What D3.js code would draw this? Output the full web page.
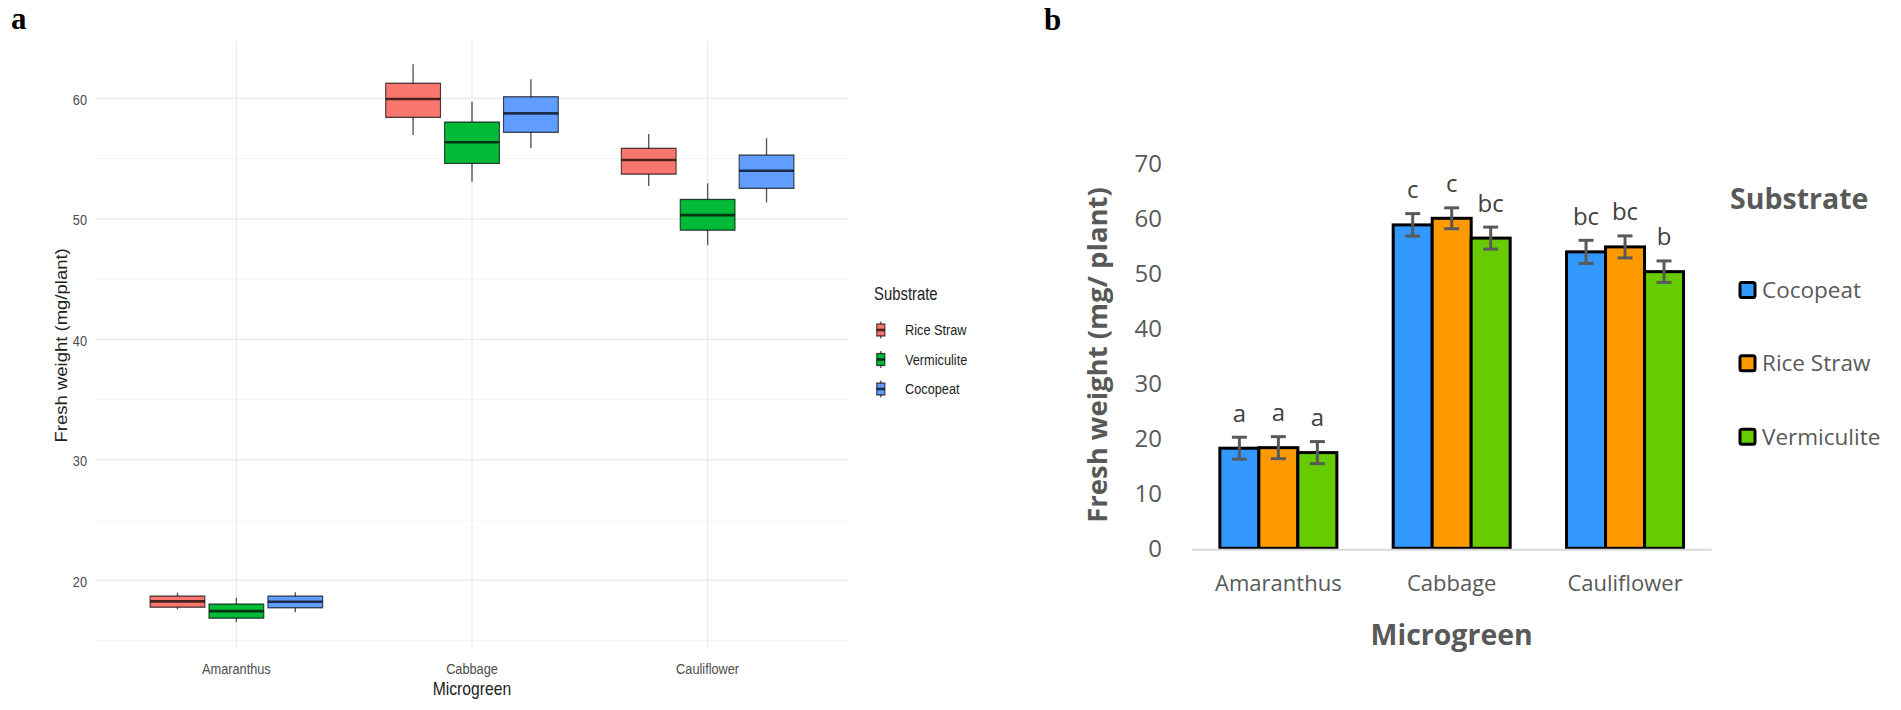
<!DOCTYPE html>
<html>
<head>
<meta charset="utf-8">
<script src="https://cdn.jsdelivr.net/npm/d3@7/dist/d3.min.js"></script>
<style>
  body { margin: 0; background: #fff; }
  svg { display: block; }
</style>
</head>
<body>
<div id="chart"></div>
<script>
// Shared categories
const microgreens = ['Amaranthus', 'Cabbage', 'Cauliflower'];

// Panel a: box plot stats per substrate, one entry per microgreen:
// [lower whisker, q1, median, q3, upper whisker]
const boxSubstrates = ['Rice Straw', 'Vermiculite', 'Cocopeat'];
const riceStrawBox = [
  [17.58, 17.77, 18.25, 18.69, 18.97],
  [56.95, 58.42, 59.94, 61.25, 62.82],
  [52.72, 53.71, 54.88, 55.85, 57.03]
];
const vermiculiteBox = [
  [16.53, 16.86, 17.44, 18.03, 18.55],
  [53.07, 54.6, 56.35, 58.03, 59.72],
  [47.82, 49.06, 50.31, 51.61, 52.94]
];
const cocopeatBox = [
  [17.36, 17.72, 18.22, 18.69, 19.02],
  [55.85, 57.18, 58.75, 60.13, 61.58],
  [51.36, 52.53, 53.99, 55.29, 56.68]
];
const boxTicks = [20, 30, 40, 50, 60];
const boxMinorTicks = [15, 25, 35, 45, 55];

// Panel b: mean fresh weight, error and significance letters
const barSubstrates = ['Cocopeat', 'Rice Straw', 'Vermiculite'];
const cocopeatMean = [18.2, 58.8, 53.9];
const riceStrawMean = [18.3, 60.0, 54.8];
const vermiculiteMean = [17.4, 56.4, 50.3];
const cocopeatErr = [2.0, 2.05, 2.1];
const riceStrawErr = [2.0, 1.9, 2.0];
const vermiculiteErr = [2.0, 2.0, 1.95];
const cocopeatLetters = ['a', 'c', 'bc'];
const riceStrawLetters = ['a', 'c', 'bc'];
const vermiculiteLetters = ['a', 'bc', 'b'];
const barTicks = [0, 10, 20, 30, 40, 50, 60, 70];

const svg = d3.select('#chart')
  .append('svg')
  .attr('width', 1901)
  .attr('height', 710);

svg.append('rect').attr('width', 1901).attr('height', 710).attr('fill', '#fff');

// Panel letters
svg.append('text').attr('x', 11).attr('y', 29)
  .style('font-family', '"Liberation Serif", "DejaVu Serif", serif')
  .style('font-weight', 'bold').style('font-size', '31px').text('a');
svg.append('text').attr('x', 1044).attr('y', 30)
  .style('font-family', '"Liberation Serif", "DejaVu Serif", serif')
  .style('font-weight', 'bold').style('font-size', '31px').text('b');

// ---------------- Panel a (ggplot style box plot) ----------------
// The original figure is squeezed horizontally, so draw in a scaled group.
const sx = 0.85;
const left = svg.append('g').attr('transform', `scale(${sx},1)`);
const sansA = '"Liberation Sans", Arial, sans-serif';

const boxColors = { 'Rice Straw': '#F8766D', 'Vermiculite': '#00BA38', 'Cocopeat': '#619CFF' };
const boxData = { 'Rice Straw': riceStrawBox, 'Vermiculite': vermiculiteBox, 'Cocopeat': cocopeatBox };

const ax = d3.scalePoint().domain(microgreens).range([95 / sx, 849 / sx]).padding(0.6);
const ay = d3.scaleLinear().domain([14.3, 64.7]).range([649, 41.7]);
const dodge = d3.scaleBand().domain(boxSubstrates)
  .range([-ax.step() * 0.375, ax.step() * 0.375]);
const boxW = dodge.bandwidth() * 0.93;

// Grid
left.append('g').selectAll('line').data(boxMinorTicks).join('line')
  .attr('x1', 95 / sx).attr('x2', 849 / sx)
  .attr('y1', d => ay(d)).attr('y2', d => ay(d))
  .attr('stroke', '#f2f2f2').attr('stroke-width', 1);
left.append('g').selectAll('line').data(boxTicks).join('line')
  .attr('x1', 95 / sx).attr('x2', 849 / sx)
  .attr('y1', d => ay(d)).attr('y2', d => ay(d))
  .attr('stroke', '#ebebeb').attr('stroke-width', 1.4);
left.append('g').selectAll('line').data(microgreens).join('line')
  .attr('x1', d => ax(d)).attr('x2', d => ax(d))
  .attr('y1', ay.range()[1]).attr('y2', ay.range()[0])
  .attr('stroke', '#ebebeb').attr('stroke-width', 1.4);

// Draw one box glyph
function drawBox(g, cx, w, s, fill, yScale) {
  g.append('line')
    .attr('x1', cx).attr('x2', cx)
    .attr('y1', yScale(s[0])).attr('y2', yScale(s[4]))
    .attr('stroke', '#555').attr('stroke-width', 1.6);
  g.append('rect')
    .attr('x', cx - w / 2).attr('width', w)
    .attr('y', yScale(s[3])).attr('height', yScale(s[1]) - yScale(s[3]))
    .attr('fill', fill)
    .attr('stroke', 'rgba(0,0,0,0.7)').attr('stroke-width', 1.3);
  g.append('line')
    .attr('x1', cx - w / 2).attr('x2', cx + w / 2)
    .attr('y1', yScale(s[2])).attr('y2', yScale(s[2]))
    .attr('stroke', 'rgba(0,0,0,0.7)').attr('stroke-width', 2.6);
}

const boxes = left.append('g');
boxSubstrates.forEach(sub => {
  microgreens.forEach((m, i) => {
    const cx = ax(m) + dodge(sub) + dodge.bandwidth() / 2;
    drawBox(boxes, cx, boxW, boxData[sub][i], boxColors[sub], ay);
  });
});

// Axis text
left.append('g').selectAll('text').data(boxTicks).join('text')
  .attr('x', 87 / sx).attr('y', d => ay(d)).attr('dy', '0.42em')
  .attr('text-anchor', 'end')
  .style('font-family', sansA).style('font-size', '15px').attr('fill', '#4d4d4d')
  .text(d => d);
left.append('g').selectAll('text').data(microgreens).join('text')
  .attr('x', d => ax(d)).attr('y', 674)
  .attr('text-anchor', 'middle')
  .style('font-family', sansA).style('font-size', '15px').attr('fill', '#4d4d4d')
  .text(d => d);
left.append('text')
  .attr('x', (95 + 849) / 2 / sx).attr('y', 695)
  .attr('text-anchor', 'middle')
  .style('font-family', sansA).style('font-size', '18.5px').attr('fill', '#222')
  .text('Microgreen');
left.append('text')
  .attr('transform', `translate(${67 / sx},${(41.7 + 649) / 2}) rotate(-90)`)
  .attr('text-anchor', 'middle')
  .style('font-family', sansA).style('font-size', '18.5px').attr('fill', '#222')
  .text('Fresh weight (mg/plant)');

// Legend
const legA = left.append('g');
legA.append('text').attr('x', 874 / sx).attr('y', 300)
  .style('font-family', sansA).style('font-size', '17.5px').attr('fill', '#222')
  .text('Substrate');
const legAy = d3.scalePoint().domain(boxSubstrates).range([330, 389]);
boxSubstrates.forEach(sub => {
  const cy = legAy(sub);
  const ky = d3.scaleLinear().domain([0, 4]).range([cy + 8.5, cy - 8.5]);
  drawBox(legA, 880.8 / sx, 9.6, [0, 0.6, 2, 3.4, 4], boxColors[sub], ky);
  legA.append('text').attr('x', 905 / sx).attr('y', cy).attr('dy', '0.36em')
    .style('font-family', sansA).style('font-size', '15px').attr('fill', '#222')
    .text(sub);
});

// ---------------- Panel b (Excel style bar chart) ----------------
const right = svg.append('g');
const sansB = '"Open Sans", "Noto Sans", sans-serif';
const grayText = '#595959';

const barColors = { 'Cocopeat': '#3399FF', 'Rice Straw': '#FF9900', 'Vermiculite': '#66CC00' };
const barMeans = { 'Cocopeat': cocopeatMean, 'Rice Straw': riceStrawMean, 'Vermiculite': vermiculiteMean };
const barErrs = { 'Cocopeat': cocopeatErr, 'Rice Straw': riceStrawErr, 'Vermiculite': vermiculiteErr };
const barLetters = { 'Cocopeat': cocopeatLetters, 'Rice Straw': riceStrawLetters, 'Vermiculite': vermiculiteLetters };

const bx = d3.scaleBand().domain(microgreens).range([1191.7, 1711.7])
  .paddingInner(0.325).paddingOuter(0.1625);
const bxInner = d3.scaleBand().domain(barSubstrates).range([0, bx.bandwidth()]);
const by = d3.scaleLinear().domain([0, 70]).range([548.3, 163.3]);

// Y ticks (no axis line, no gridlines)
right.append('g').selectAll('text').data(barTicks).join('text')
  .attr('x', 1162).attr('y', d => by(d)).attr('dy', '0.36em')
  .attr('text-anchor', 'end')
  .style('font-family', sansB).style('font-size', '24px').attr('fill', grayText)
  .text(d => d);

const rows = barSubstrates.flatMap(sub => microgreens.map((m, i) => ({
  sub, m,
  v: barMeans[sub][i],
  e: barErrs[sub][i],
  letter: barLetters[sub][i]
})));

right.append('g').selectAll('rect').data(rows).join('rect')
  .attr('x', d => bx(d.m) + bxInner(d.sub))
  .attr('width', bxInner.bandwidth())
  .attr('y', d => by(d.v))
  .attr('height', d => by(0) - by(d.v))
  .attr('fill', d => barColors[d.sub])
  .attr('stroke', '#000').attr('stroke-width', 3);

// X axis line
right.append('line')
  .attr('x1', bx.range()[0]).attr('x2', bx.range()[1])
  .attr('y1', by(0) + 1.5).attr('y2', by(0) + 1.5)
  .attr('stroke', '#d9d9d9').attr('stroke-width', 2);

// Error bars
const err = right.append('g').attr('stroke', grayText).attr('stroke-width', 3);
rows.forEach(d => {
  const cx = bx(d.m) + bxInner(d.sub) + bxInner.bandwidth() / 2;
  err.append('line').attr('x1', cx).attr('x2', cx)
    .attr('y1', by(d.v + d.e)).attr('y2', by(d.v - d.e));
  [d.v + d.e, d.v - d.e].forEach(yv => {
    err.append('line').attr('x1', cx - 7.5).attr('x2', cx + 7.5)
      .attr('y1', by(yv)).attr('y2', by(yv));
  });
});

// Significance letters
right.append('g').selectAll('text').data(rows).join('text')
  .attr('x', d => bx(d.m) + bxInner(d.sub) + bxInner.bandwidth() / 2)
  .attr('y', d => by(d.v + d.e) - 15.5)
  .attr('text-anchor', 'middle')
  .style('font-family', sansB).style('font-size', '24px').attr('fill', '#404040')
  .text(d => d.letter);

// X tick labels and titles
right.append('g').selectAll('text').data(microgreens).join('text')
  .attr('x', d => bx(d) + bx.bandwidth() / 2).attr('y', 591)
  .attr('text-anchor', 'middle')
  .style('font-family', sansB).style('font-size', '22px').attr('fill', grayText)
  .text(d => d);
right.append('text')
  .attr('x', (bx.range()[0] + bx.range()[1]) / 2).attr('y', 645)
  .attr('text-anchor', 'middle')
  .style('font-family', sansB).style('font-size', '28.5px').style('font-weight', 'bold')
  .attr('fill', grayText)
  .text('Microgreen');
right.append('text')
  .attr('transform', 'translate(1107,355) rotate(-90)')
  .attr('text-anchor', 'middle')
  .style('font-family', sansB).style('font-size', '27.5px').style('font-weight', 'bold')
  .attr('fill', grayText)
  .text('Fresh weight (mg/ plant)');

// Legend
const legB = right.append('g');
legB.append('text').attr('x', 1730).attr('y', 209)
  .style('font-family', sansB).style('font-size', '28.5px').style('font-weight', 'bold')
  .attr('fill', grayText)
  .text('Substrate');
const legBy = d3.scalePoint().domain(barSubstrates).range([290, 436.7]);
barSubstrates.forEach(sub => {
  const cy = legBy(sub);
  legB.append('rect')
    .attr('x', 1740).attr('y', cy - 7.5).attr('width', 15).attr('height', 15)
    .attr('rx', 2)
    .attr('fill', barColors[sub]).attr('stroke', '#000').attr('stroke-width', 3);
  legB.append('text').attr('x', 1762).attr('y', cy).attr('dy', '0.36em')
    .style('font-family', sansB).style('font-size', '22.5px').attr('fill', grayText)
    .text(sub);
});
</script>
</body>
</html>
